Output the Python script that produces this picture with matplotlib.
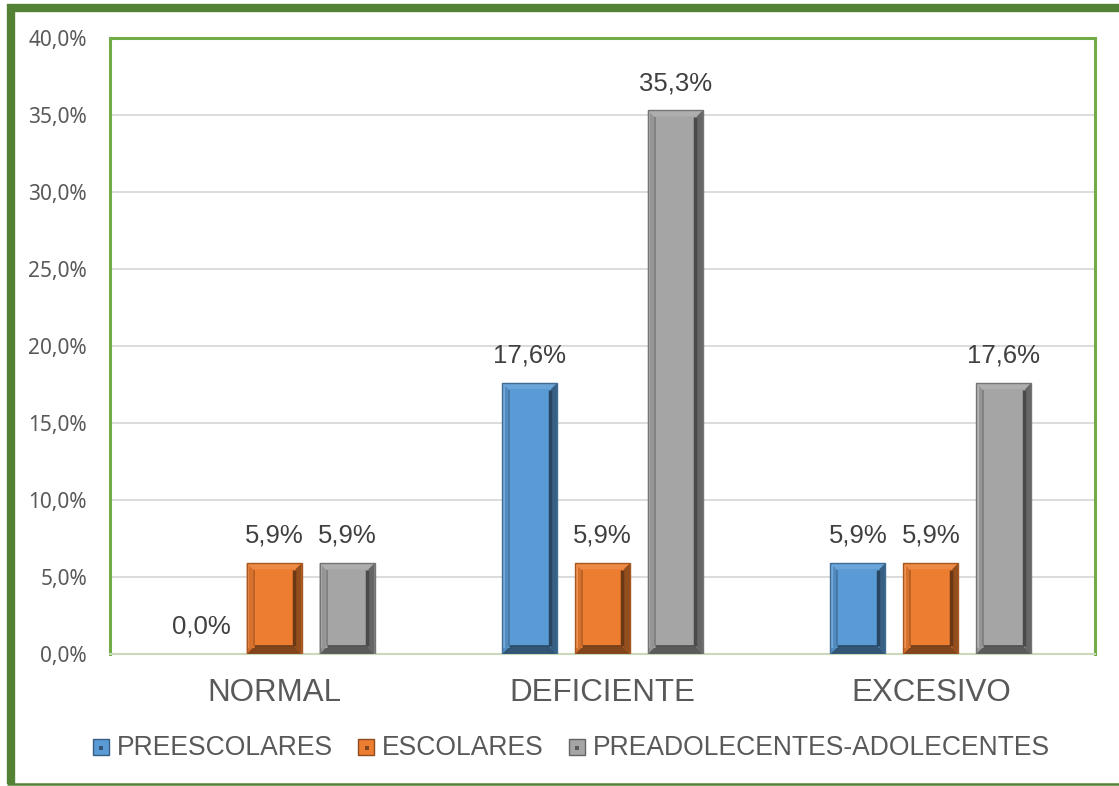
import matplotlib
matplotlib.use("Agg")
import matplotlib.pyplot as plt
import matplotlib.patches as mpatches
from matplotlib.lines import Line2D
from matplotlib.legend_handler import HandlerBase
import matplotlib.colors as mcolors
import numpy as np

categories = ["NORMAL", "DEFICIENTE", "EXCESIVO"]
series_names = ["PREESCOLARES", "ESCOLARES", "PREADOLECENTES-ADOLECENTES"]
preescolares = [0.0, 17.6, 5.9]
escolares = [5.9, 5.9, 5.9]
preadolescentes = [5.9, 35.3, 17.6]
series_values = [preescolares, escolares, preadolescentes]
y_ticks = [0, 5, 10, 15, 20, 25, 30, 35, 40]

colors = ["#5B9BD5", "#ED7D31", "#A5A5A5"]
TEXT = "#595959"
FRAME = "#548235"
PLOT_FRAME = "#70AD47"


def shade(c, f):
    r, g, b = mcolors.to_rgb(c)
    if f < 1:
        return (r * f, g * f, b * f)
    t = f - 1
    return (r + (1 - r) * t, g + (1 - g) * t, b + (1 - b) * t)


fig = plt.figure(figsize=(11.19, 7.86), dpi=100)
W, H = 1119, 786

# outer frame: heavy left and top edges, thin bottom edge
fig.add_artist(Line2D([11 / W, 11 / W], [1 - 4 / H, 1 - 784 / H], transform=fig.transFigure,
                      color=FRAME, lw=6, solid_capstyle="butt"))
fig.add_artist(Line2D([7 / W, 1.0], [1 - 8 / H, 1 - 8 / H], transform=fig.transFigure,
                      color=FRAME, lw=6, solid_capstyle="butt"))
fig.add_artist(Line2D([7 / W, 1.0], [1 - 783.5 / H, 1 - 783.5 / H], transform=fig.transFigure,
                      color=FRAME, lw=1.8, solid_capstyle="butt"))

ax = fig.add_axes([110 / W, 1 - 654 / H, 985 / W, 616 / H])
ax.set_xlim(-0.5, 2.5)
ax.set_ylim(0, 40)

ax.set_yticks(y_ticks)
ax.set_yticklabels([f"{v:.1f}%".replace(".", ",") for v in y_ticks],
                   fontsize=15, color=TEXT, family="Noto Sans")
ax.tick_params(axis="y", length=0, pad=16.5)
ax.tick_params(axis="x", length=0, pad=17)
x = np.arange(len(categories))
ax.set_xticks(x)
ax.set_xticklabels(categories, fontsize=22.5, color=TEXT, family="Liberation Sans")
ax.yaxis.grid(True, color="#D9D9D9", linewidth=1.3)
ax.set_axisbelow(True)
for s in ["left", "top", "right"]:
    ax.spines[s].set_color(PLOT_FRAME)
    ax.spines[s].set_linewidth(2.2)
ax.spines["bottom"].set_color("#C9D9B9")
ax.spines["bottom"].set_linewidth(1.5)

bar_w = 0.1675
stride = 0.222
fig.canvas.draw()
inv = ax.transData.inverted()
px_x = inv.transform((1, 0))[0] - inv.transform((0, 0))[0]
px_y = inv.transform((0, 1))[1] - inv.transform((0, 0))[1]


def bevel(rect, color):
    x0, y0 = rect.get_x(), rect.get_y()
    w, h = rect.get_width(), rect.get_height()
    if h <= 0:
        return
    bx, by = 6 * px_x, 6 * px_y
    bx = min(bx, w / 3)
    by = min(by, h / 3)
    x1, y1 = x0 + w, y0 + h
    polys = [
        ([(x0, y0), (x0 + bx, y0 + by), (x0 + bx, y1 - by), (x0, y1)], shade(color, 0.9)),
        ([(x0, y1), (x0 + bx, y1 - by), (x1 - bx, y1 - by), (x1, y1)], shade(color, 1.1)),
        ([(x1, y1), (x1 - bx, y1 - by), (x1 - bx, y0 + by), (x1, y0)], shade(color, 0.62)),
        ([(x0, y0), (x0 + bx, y0 + by), (x1 - bx, y0 + by), (x1, y0)], shade(color, 0.55)),
    ]
    for pts, c in polys:
        ax.add_patch(mpatches.Polygon(pts, closed=True, facecolor=c,
                                      edgecolor="none", zorder=3))
    # light rim on the outer edge of the frame
    ax.plot([x0 + px_x * 1.5] * 2, [y0 + by, y1 - px_y * 1.5],
            color=shade(color, 1.15), lw=1.5, zorder=4, solid_capstyle="butt")
    # inner panel shadow lines
    ax.plot([x1 - bx - 1.5 * px_x] * 2, [y0 + by + 2 * px_y, y1 - by - 1 * px_y],
            color=shade(color, 0.45), lw=2.5, zorder=4, solid_capstyle="butt")
    ax.plot([x0 + bx + 1 * px_x, x1 - bx - 1 * px_x], [y0 + by + 1.5 * px_y] * 2,
            color=shade(color, 0.5), lw=2.0, zorder=4, solid_capstyle="butt")
    ax.plot([x0 + bx + 1 * px_x] * 2, [y0 + by + 2 * px_y, y1 - by - 1 * px_y],
            color=shade(color, 0.75), lw=1.2, zorder=4, solid_capstyle="butt")
    ax.add_patch(mpatches.Rectangle((x0, y0), w, h, fill=False,
                                    edgecolor=shade(color, 0.7), lw=1.0, zorder=5))


for i, (vals, col) in enumerate(zip(series_values, colors)):
    pos = x + (i - 1) * stride
    bars = ax.bar(pos, vals, width=bar_w, color=col, edgecolor="none", zorder=2)
    for rect, v in zip(bars, vals):
        bevel(rect, col)
        ax.annotate(f"{v:.1f}%".replace(".", ","),
                    (rect.get_x() + rect.get_width() / 2, v),
                    xytext=(0, 11), textcoords="offset points",
                    ha="center", va="bottom", fontsize=18.5, color="#404040",
                    family="Liberation Sans")


class BevelSquare(HandlerBase):
    def __init__(self, color):
        super().__init__()
        self.color = color

    def create_artists(self, legend, orig_handle, xdescent, ydescent, width,
                       height, fontsize, trans):
        s = min(width, height)
        x0 = -xdescent + (width - s) / 2
        y0 = -ydescent + (height - s) / 2 - 1
        outer = mpatches.Rectangle((x0, y0), s, s, facecolor=self.color,
                                   edgecolor=shade(self.color, 0.6), lw=1,
                                   transform=trans)
        inner = mpatches.Rectangle((x0 + s * 0.4, y0 + s * 0.3), s * 0.25, s * 0.25,
                                   facecolor=shade(self.color, 0.55),
                                   edgecolor="none", transform=trans)
        return [outer, inner]


handles = [mpatches.Patch(color=c) for c in colors]
leg = fig.legend(handles, series_names, loc="center", bbox_to_anchor=(571.5 / W, 1 - 748 / H),
                 ncol=3, frameon=False, handlelength=0.6, handleheight=0.6,
                 handletextpad=0.3, columnspacing=0.95,
                 handler_map={h: BevelSquare(c) for h, c in zip(handles, colors)},
                 prop={"family": "Liberation Sans", "size": 19.1})
for t in leg.get_texts():
    t.set_color(TEXT)

fig.savefig("out.png", dpi=100)
